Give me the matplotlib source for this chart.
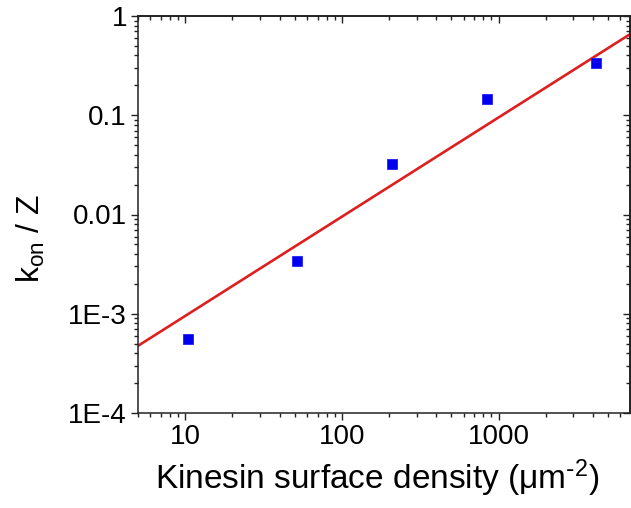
import matplotlib
matplotlib.use("Agg")
import matplotlib.pyplot as plt
from matplotlib.ticker import FixedLocator, FixedFormatter, LogLocator, NullFormatter

plt.rcParams['font.family'] = ['Liberation Sans', 'DejaVu Sans']

# Data
density = [10.5, 52, 210, 840, 4200]
kon_z = [5.6e-4, 3.4e-3, 0.032, 0.145, 0.34]
fit_x = [5, 7000]
fit_y = [4.75e-4, 0.665]

x_ticks = [10, 100, 1000]
x_ticklabels = ["10", "100", "1000"]
y_ticks = [1e-4, 1e-3, 1e-2, 1e-1, 1]
y_ticklabels = ["1E-4", "1E-3", "0.01", "0.1", "1"]

fig = plt.figure(figsize=(6.31, 5.08), dpi=100)
ax = fig.add_axes([138/631, 1-413/508, (630-138)/631, (413-16)/508])

ax.plot(fit_x, fit_y, color='#dd1f1f', lw=1.9, zorder=2)
ax.plot(density, kon_z, 's', color='#0000ee', ms=7.3, mec='#2020ff', mew=0.6, zorder=3)

ax.set_xscale('log')
ax.set_yscale('log')
ax.set_xlim(5, 6900)
ax.set_ylim(1e-4, 1)

ax.xaxis.set_major_locator(FixedLocator(x_ticks))
ax.xaxis.set_major_formatter(FixedFormatter(x_ticklabels))
ax.xaxis.set_minor_locator(LogLocator(base=10, subs=range(2, 10)))
ax.xaxis.set_minor_formatter(NullFormatter())
ax.yaxis.set_major_locator(FixedLocator(y_ticks))
ax.yaxis.set_major_formatter(FixedFormatter(y_ticklabels))
ax.yaxis.set_minor_locator(LogLocator(base=10, subs=range(2, 10)))
ax.yaxis.set_minor_formatter(NullFormatter())

ax.tick_params(which='both', direction='out', width=1.0, colors='#222222', labelsize=20, labelcolor='black')
ax.tick_params(which='major', length=5, pad=3)
ax.tick_params(which='minor', length=3)

for s in ax.spines.values():
    s.set_linewidth(1.1)
    s.set_color('#222222')

# top/right mirrored ticks pointing inward
sx = ax.secondary_xaxis('top')
sx.xaxis.set_major_locator(FixedLocator(x_ticks))
sx.xaxis.set_minor_locator(LogLocator(base=10, subs=range(2, 10)))
sx.xaxis.set_major_formatter(NullFormatter())
sx.xaxis.set_minor_formatter(NullFormatter())
sx.tick_params(which='both', direction='in', width=1.0, colors='#222222')
sx.tick_params(which='major', length=5)
sx.tick_params(which='minor', length=3)
sx.spines['top'].set_linewidth(1.1)

sy = ax.secondary_yaxis('right')
sy.yaxis.set_major_locator(FixedLocator(y_ticks))
sy.yaxis.set_minor_locator(LogLocator(base=10, subs=range(2, 10)))
sy.yaxis.set_major_formatter(NullFormatter())
sy.yaxis.set_minor_formatter(NullFormatter())
sy.tick_params(which='both', direction='in', width=1.0, colors='#222222')
sy.tick_params(which='major', length=5)
sy.tick_params(which='minor', length=3)
sy.spines['right'].set_linewidth(1.1)

ax.set_xlabel('Kinesin surface density (μm$\\mathregular{^{\\text{-}2}}$)', fontsize=24, labelpad=5.5)
ax.xaxis.label.set_x(0.487)
ax.set_ylabel('k$\\mathregular{_{on}}$ / Z', fontsize=23)
ax.yaxis.set_label_coords(-0.185, 0.44)

fig.savefig('out.png', dpi=100)
